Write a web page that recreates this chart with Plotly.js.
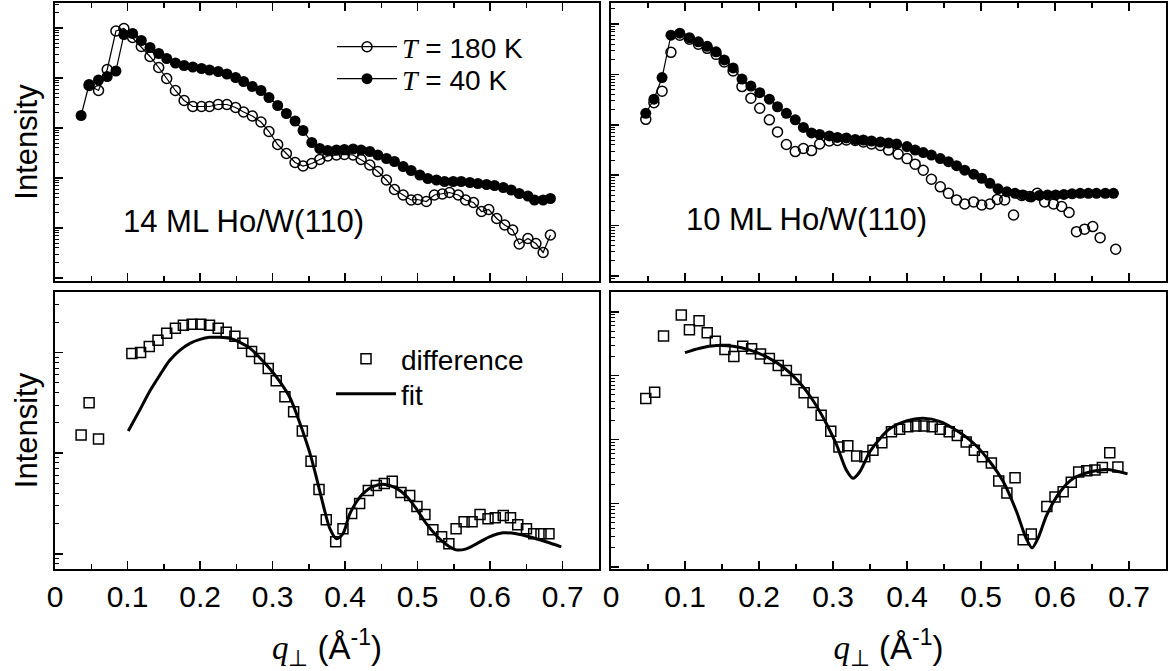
<!DOCTYPE html>
<html>
<head>
<meta charset="utf-8">
<script src="https://cdn.plot.ly/plotly-3.0.1.min.js"></script>
<style>html,body{margin:0;padding:0;background:#fff;}</style>
</head>
<body>
<div id="chart" style="width:1171px;height:671px;"></div>
<script>
// ---- 14 ML Ho/W(110): T = 40 K (filled), log10(intensity)
const x40_14 = [0.036,0.047,0.060,0.072,0.084,0.095,0.107,0.119,0.131,0.143,0.154,0.166,0.178,0.190,0.202,0.213,0.225,0.237,0.249,0.260,0.272,0.284,0.295,0.307,0.319,0.331,0.342,0.354,0.365,0.376,0.388,0.399,0.411,0.422,0.434,0.445,0.457,0.468,0.480,0.491,0.503,0.514,0.526,0.537,0.549,0.560,0.572,0.583,0.595,0.606,0.618,0.629,0.640,0.652,0.661,0.673,0.683];
const log40_14 = [3.25,3.87,3.96,4.03,4.14,4.87,4.89,4.75,4.61,4.49,4.39,4.30,4.25,4.22,4.19,4.16,4.13,4.08,4.01,3.93,3.83,3.75,3.61,3.45,3.29,3.14,2.95,2.71,2.59,2.55,2.56,2.57,2.58,2.56,2.53,2.46,2.39,2.33,2.23,2.15,2.06,1.99,1.96,1.93,1.93,1.93,1.91,1.89,1.87,1.85,1.81,1.76,1.69,1.64,1.56,1.56,1.59];
// ---- 14 ML: T = 180 K (open)
const x180_14 = [0.047,0.060,0.072,0.084,0.095,0.107,0.119,0.131,0.143,0.154,0.166,0.178,0.190,0.202,0.213,0.225,0.237,0.249,0.260,0.272,0.284,0.295,0.307,0.319,0.331,0.342,0.354,0.365,0.376,0.388,0.399,0.411,0.422,0.434,0.445,0.457,0.468,0.480,0.491,0.500,0.512,0.523,0.534,0.544,0.556,0.566,0.577,0.588,0.598,0.609,0.620,0.631,0.640,0.652,0.663,0.673,0.683];
const log180_14 = [3.85,3.75,4.17,4.94,4.99,4.81,4.63,4.43,4.21,3.99,3.75,3.55,3.43,3.43,3.43,3.47,3.47,3.41,3.32,3.24,3.12,2.93,2.67,2.49,2.31,2.24,2.29,2.37,2.44,2.46,2.47,2.46,2.37,2.26,2.13,1.96,1.77,1.66,1.56,1.57,1.53,1.66,1.68,1.71,1.66,1.56,1.51,1.33,1.37,1.19,1.06,0.96,0.68,0.79,0.69,0.51,0.86];
// ---- 10 ML Ho/W(110): T = 40 K
const x40_10 = [0.047,0.058,0.069,0.081,0.093,0.106,0.118,0.130,0.142,0.153,0.165,0.177,0.189,0.201,0.214,0.225,0.237,0.249,0.260,0.271,0.282,0.295,0.306,0.318,0.330,0.341,0.352,0.364,0.375,0.386,0.400,0.411,0.422,0.433,0.445,0.456,0.467,0.478,0.490,0.501,0.512,0.523,0.535,0.546,0.557,0.568,0.579,0.590,0.601,0.612,0.623,0.634,0.645,0.656,0.668,0.679];
const log40_10 = [3.23,3.51,3.94,4.78,4.82,4.73,4.65,4.56,4.45,4.29,4.13,3.91,3.77,3.64,3.51,3.36,3.23,3.10,2.95,2.84,2.81,2.78,2.75,2.74,2.71,2.70,2.68,2.66,2.64,2.62,2.57,2.50,2.45,2.40,2.33,2.27,2.19,2.10,2.02,1.94,1.84,1.73,1.67,1.64,1.61,1.57,1.60,1.61,1.61,1.62,1.63,1.64,1.64,1.64,1.64,1.64];
// ---- 10 ML: T = 180 K
const x180_10 = [0.047,0.058,0.069,0.081,0.093,0.106,0.118,0.130,0.142,0.153,0.165,0.177,0.189,0.201,0.214,0.225,0.237,0.249,0.260,0.271,0.282,0.295,0.306,0.318,0.330,0.341,0.352,0.364,0.375,0.388,0.400,0.411,0.422,0.433,0.445,0.456,0.467,0.478,0.490,0.501,0.512,0.522,0.532,0.544,0.555,0.566,0.576,0.586,0.598,0.609,0.619,0.629,0.640,0.651,0.661,0.682];
const log180_10 = [3.11,3.44,3.67,4.44,4.78,4.70,4.60,4.52,4.40,4.25,4.07,3.76,3.53,3.33,3.10,2.86,2.61,2.47,2.53,2.49,2.62,2.68,2.69,2.70,2.69,2.66,2.62,2.59,2.50,2.42,2.33,2.22,2.10,1.92,1.77,1.64,1.51,1.43,1.47,1.41,1.43,1.52,1.51,1.21,1.60,1.58,1.64,1.47,1.43,1.38,1.26,0.88,0.93,0.98,0.76,0.53];
// ---- 14 ML difference and fit
const xDiff_14 = [0.036,0.047,0.060,0.106,0.118,0.130,0.142,0.154,0.166,0.177,0.189,0.201,0.213,0.225,0.236,0.248,0.259,0.271,0.282,0.294,0.305,0.317,0.329,0.341,0.353,0.364,0.374,0.387,0.397,0.409,0.420,0.432,0.443,0.454,0.465,0.477,0.489,0.499,0.510,0.521,0.533,0.543,0.553,0.564,0.575,0.586,0.597,0.607,0.618,0.628,0.638,0.650,0.660,0.670,0.681];
const logDiff_14 = [1.18,1.50,1.14,1.99,2.00,2.06,2.12,2.19,2.24,2.27,2.28,2.28,2.27,2.24,2.20,2.16,2.09,2.01,1.94,1.84,1.72,1.56,1.41,1.22,0.92,0.64,0.34,0.12,0.25,0.40,0.50,0.63,0.68,0.70,0.72,0.61,0.58,0.47,0.39,0.24,0.17,0.10,0.25,0.32,0.32,0.39,0.35,0.36,0.38,0.36,0.29,0.25,0.20,0.20,0.20];
const xFit_14 = [0.101,0.117,0.131,0.145,0.158,0.172,0.186,0.200,0.213,0.227,0.241,0.255,0.269,0.282,0.296,0.310,0.324,0.337,0.351,0.360,0.370,0.379,0.388,0.397,0.406,0.416,0.425,0.439,0.455,0.471,0.485,0.498,0.512,0.526,0.540,0.553,0.567,0.581,0.599,0.618,0.636,0.654,0.677,0.698];
const logFit_14 = [1.22,1.43,1.62,1.78,1.92,2.02,2.09,2.13,2.15,2.15,2.14,2.10,2.04,1.95,1.84,1.71,1.55,1.31,1.01,0.77,0.48,0.25,0.15,0.20,0.39,0.52,0.60,0.67,0.69,0.65,0.57,0.45,0.30,0.18,0.09,0.04,0.05,0.10,0.17,0.21,0.20,0.17,0.12,0.07];
// ---- 10 ML difference and fit
const xDiff_10 = [0.047,0.059,0.071,0.095,0.106,0.119,0.130,0.141,0.154,0.166,0.178,0.190,0.202,0.214,0.226,0.237,0.250,0.261,0.273,0.284,0.297,0.308,0.320,0.332,0.343,0.354,0.366,0.379,0.390,0.401,0.412,0.423,0.434,0.445,0.457,0.468,0.480,0.491,0.502,0.514,0.524,0.535,0.546,0.557,0.568,0.589,0.600,0.611,0.622,0.632,0.643,0.654,0.664,0.674,0.685];
const logDiff_10 = [2.64,2.74,3.62,3.95,3.72,3.86,3.67,3.54,3.41,3.30,3.46,3.42,3.34,3.27,3.16,3.08,2.94,2.73,2.58,2.38,2.13,1.88,1.90,1.74,1.73,1.83,1.95,2.12,2.16,2.20,2.21,2.21,2.20,2.16,2.12,2.06,1.96,1.83,1.73,1.63,1.35,1.16,1.40,0.43,0.52,0.95,1.10,1.18,1.33,1.49,1.51,1.52,1.56,1.79,1.57];
const xFit_10 = [0.100,0.120,0.143,0.165,0.188,0.211,0.233,0.255,0.273,0.291,0.305,0.318,0.327,0.336,0.350,0.364,0.377,0.399,0.422,0.445,0.467,0.490,0.512,0.530,0.548,0.561,0.569,0.577,0.589,0.607,0.625,0.647,0.670,0.698];
const logFit_10 = [3.36,3.43,3.47,3.46,3.40,3.29,3.13,2.89,2.61,2.25,1.91,1.52,1.39,1.49,1.81,2.02,2.17,2.29,2.33,2.28,2.14,1.94,1.65,1.34,0.87,0.45,0.30,0.45,0.82,1.18,1.39,1.49,1.53,1.46];

const panelLabels = ["14 ML Ho/W(110)", "10 ML Ho/W(110)"];
const seriesNames = ['<span style="font-family:\'Liberation Serif\'"><i>T</i></span> = 180 K',
                     '<span style="font-family:\'Liberation Serif\'"><i>T</i></span> = 40 K',
                     'difference', 'fit'];

const pow = a => a.map(v => Math.pow(10, v));
const openC = {symbol:'circle-open', size:10, color:'black', line:{width:1.5, color:'black'}};
const fillC = {symbol:'circle', size:11, color:'black'};
const sq = {symbol:'square-open', size:10, color:'black', line:{width:1.5, color:'black'}};

const traces = [
  {x:x180_14, y:pow(log180_14), xaxis:'x', yaxis:'y', mode:'lines+markers', name:seriesNames[0],
   marker:openC, line:{color:'black', width:1.2}, legend:'legend'},
  {x:x40_14, y:pow(log40_14), xaxis:'x', yaxis:'y', mode:'lines+markers', name:seriesNames[1],
   marker:fillC, line:{color:'black', width:1.2}, legend:'legend3'},
  {x:x180_10, y:pow(log180_10), xaxis:'x2', yaxis:'y2', mode:'markers', name:seriesNames[0],
   marker:openC, showlegend:false},
  {x:x40_10, y:pow(log40_10), xaxis:'x2', yaxis:'y2', mode:'lines+markers', name:seriesNames[1],
   marker:fillC, line:{color:'black', width:1.2}, showlegend:false},
  {x:xDiff_14, y:pow(logDiff_14), xaxis:'x3', yaxis:'y3', mode:'markers', name:seriesNames[2],
   marker:sq, legend:'legend2'},
  {x:xFit_14, y:pow(logFit_14), xaxis:'x3', yaxis:'y3', mode:'lines', name:seriesNames[3],
   line:{color:'black', width:3, shape:'spline', smoothing:0.8}, legend:'legend4'},
  {x:xDiff_10, y:pow(logDiff_10), xaxis:'x4', yaxis:'y4', mode:'markers', name:seriesNames[2],
   marker:sq, showlegend:false},
  {x:xFit_10, y:pow(logFit_10), xaxis:'x4', yaxis:'y4', mode:'lines', name:seriesNames[3],
   line:{color:'black', width:3, shape:'spline', smoothing:0.8}, showlegend:false}
];

const W = 1171, H = 671;
const dxL = [55/W, 599/W], dxR = [611/W, 1166/W];
const dyT = [1-281/H, 1-3/H], dyB = [1-569/H, 1-292/H];
const FONT = 'Liberation Sans, Arial, sans-serif';
const xTitle = '<span style="font-family:\'Liberation Serif\'"><i>q</i></span><sub>⊥</sub> (Å<sup>-1</sup>)';

function xax(domain, anchor, labels, mirror) {
  return {domain, anchor, range:[0,0.75], showticklabels:labels, ticks:'inside', ticklen:8, tickwidth:1.5,
    tickcolor:'black', tick0:0, dtick:0.1, minor:{dtick:0.05, ticks:'inside', ticklen:5, tickwidth:1.5, tickcolor:'black'},
    showline:true, linewidth:2, linecolor:'black', mirror, showgrid:false, zeroline:false,
    tickfont:{size:30, family:FONT, color:'black'},
    title: labels ? {text:xTitle, font:{size:33, family:FONT, color:'black'}, standoff:26} : undefined};
}
function yax(domain, anchor, range, title) {
  return {domain, anchor, type:'log', range, showticklabels:false, ticks:'inside', ticklen:8, tickwidth:1.5,
    tickcolor:'black', dtick:1, minor:{dtick:'D1', ticks:'inside', ticklen:4, tickwidth:1, tickcolor:'black'},
    showline:true, linewidth:2, linecolor:'black', mirror:true, showgrid:false, zeroline:false,
    title: title ? {text:'Intensity', font:{size:31, family:FONT, color:'black'}, standoff:6} : undefined};
}
function leg(xpx, ypx) {
  return {x:xpx/W, y:1-ypx/H, xanchor:'left', yanchor:'top', bgcolor:'rgba(0,0,0,0)',
    font:{size:28, family:FONT, color:'black'}, itemwidth:60, tracegroupgap:0};
}

const layout = {
  width:W, height:H, margin:{l:0, r:0, t:0, b:0}, paper_bgcolor:'white', plot_bgcolor:'white',
  font:{family:FONT, color:'black'},
  xaxis: xax(dxL, 'y', false, 'ticks'),
  xaxis2: xax(dxR, 'y2', false, 'ticks'),
  xaxis3: xax(dxL, 'y3', true, true),
  xaxis4: xax(dxR, 'y4', true, true),
  yaxis: yax(dyT, 'x', [-0.06, 5.5], true),
  yaxis2: yax(dyT, 'x2', [-0.1, 5.42], false),
  yaxis3: yax(dyB, 'x3', [-0.15, 2.6], true),
  yaxis4: yax(dyB, 'x4', [-0.03, 4.31], false),
  legend: leg(332, 22),
  legend3: leg(332, 54),
  legend2: leg(331, 334),
  legend4: leg(331, 369),
  annotations: [
    {text:panelLabels[0], xref:'paper', yref:'paper', x:243/W, y:1-222/H, xanchor:'center', yanchor:'middle',
     showarrow:false, font:{size:31, family:FONT, color:'black'}},
    {text:panelLabels[1], xref:'paper', yref:'paper', x:807/W, y:1-220/H, xanchor:'center', yanchor:'middle',
     showarrow:false, font:{size:31, family:FONT, color:'black'}}
  ],
  showlegend:true
};

Plotly.newPlot('chart', traces, layout, {staticPlot:true, displayModeBar:false});
</script>
</body>
</html>
